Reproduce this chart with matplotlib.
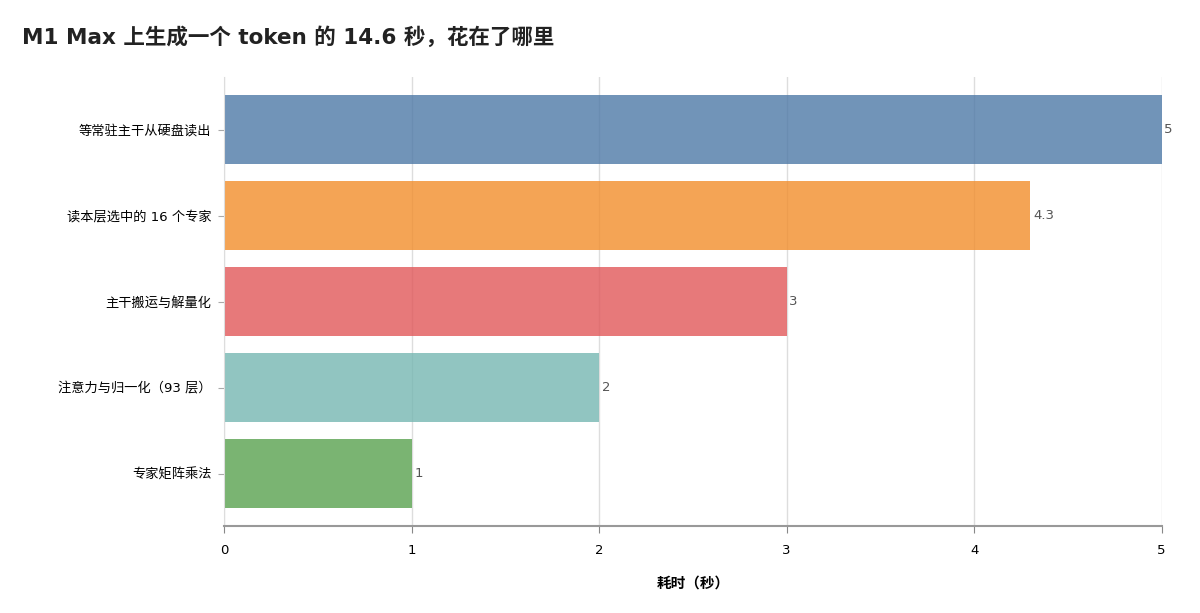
import matplotlib
matplotlib.use("Agg")
import matplotlib.pyplot as plt

plt.rcParams['font.family'] = ['DejaVu Sans', 'Noto Sans CJK SC']

categories = ['等常驻主干从硬盘读出', '读本层选中的 16 个专家', '主干搬运与解量化',
              '注意力与归一化（93 层）', '专家矩阵乘法']
seconds = [5, 4.3, 3, 2, 1]
colors = ['#4e79a7', '#f28e2b', '#e15759', '#76b7b2', '#59a14f']

fig = plt.figure(figsize=(12, 6.13), dpi=100)
ax = fig.add_axes([0.1867, 0.142, 0.7813, 0.732])

ypos = list(range(len(categories)))
ax.barh(ypos, seconds, height=0.8, color=colors, alpha=0.8, zorder=2)
for y, v in zip(ypos, seconds):
    ax.text(v + 0.015, y, f'{v:g}', va='center', ha='left', fontsize=9.5, color='#555555')

ax.set_yticks(ypos)
ax.set_yticklabels(categories, fontsize=9.5)
ax.set_ylim(4.61, -0.61)
ax.set_xlim(0, 5)
ax.set_xticks([0, 1, 2, 3, 4, 5])
ax.tick_params(axis='x', labelsize=9.5, length=5, color='#888888', pad=8)
ax.tick_params(axis='y', length=4, color='#aaaaaa', pad=5)
ax.grid(axis='x', color='#dddddd', linewidth=1, zorder=0)
ax.set_axisbelow(True)

for s in ['top', 'right']:
    ax.spines[s].set_visible(False)
ax.spines['left'].set_color('#dddddd')
ax.spines['bottom'].set_color('#999999')
ax.spines['bottom'].set_linewidth(1.5)

ax.set_xlabel('耗时（秒）', fontsize=10.5, fontweight='bold', labelpad=13)
fig.text(0.018, 0.94, 'M1 Max 上生成一个 token 的 14.6 秒，花在了哪里',
         fontsize=15.5, fontweight='bold', ha='left', va='center', color='#222222')

fig.savefig('out.png', dpi=100)
